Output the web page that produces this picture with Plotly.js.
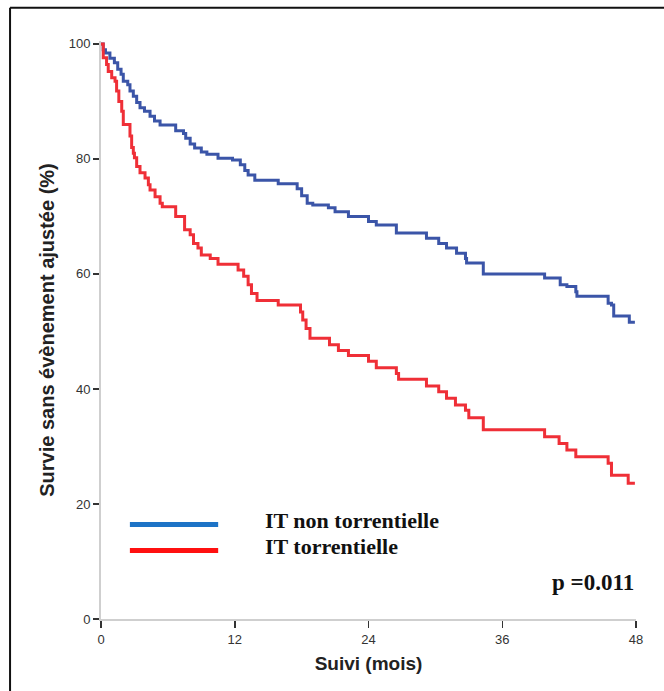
<!DOCTYPE html>
<html>
<head>
<meta charset="utf-8">
<script src="https://cdn.plot.ly/plotly-3.0.1.min.js"></script>
<style>
html,body{margin:0;padding:0;background:#fff;}
#chart{width:664px;height:691px;}
</style>
</head>
<body>
<div id="chart"></div>
<script>
// Kaplan-Meier step data (months, % event-free survival)
const blueName = "IT non torrentielle";
const blueTime = [0, 0.2, 0.4, 0.8, 1.2, 1.5, 1.8, 2.0, 2.4, 2.6, 2.9, 3.2, 3.5, 3.9, 4.4, 4.8, 5.3, 6.7, 7.4, 7.6, 8.0, 8.4, 9.0, 9.5, 10.5, 11.8, 12.5, 12.9, 13.2, 13.8, 15.9, 17.6, 18.0, 18.5, 19.0, 20.4, 21.0, 22.2, 24.0, 24.7, 26.5, 29.2, 30.3, 31.0, 31.9, 32.7, 32.8, 34.3, 39.8, 41.2, 41.8, 42.6, 42.7, 45.5, 45.8, 46.0, 47.4, 47.9];
const blueSurv = [100, 99.0, 98.4, 97.5, 96.7, 95.6, 94.7, 93.5, 92.9, 91.8, 90.9, 89.8, 88.9, 88.3, 87.4, 86.6, 85.9, 84.9, 84.4, 83.6, 82.6, 81.9, 81.2, 80.8, 80.1, 79.8, 79.0, 78.0, 77.2, 76.3, 75.7, 74.8, 73.6, 72.3, 72.0, 71.5, 70.8, 70.0, 69.1, 68.5, 67.1, 66.2, 65.3, 64.5, 63.6, 62.7, 61.9, 60.0, 59.3, 58.1, 57.8, 56.9, 56.1, 54.9, 54.6, 52.7, 51.6, 51.6];

const redName = "IT torrentielle";
const redTime = [0, 0.2, 0.5, 0.65, 0.96, 1.26, 1.4, 1.6, 1.86, 2.0, 2.6, 2.75, 2.9, 3.0, 3.2, 3.5, 3.95, 4.25, 4.4, 4.85, 5.3, 5.5, 6.7, 7.5, 8.0, 8.3, 8.7, 9.0, 9.8, 10.5, 12.3, 12.8, 13.2, 13.5, 14.0, 15.9, 17.9, 18.1, 18.4, 18.75, 20.5, 21.3, 22.2, 24.0, 24.7, 26.5, 26.7, 29.2, 30.3, 31.0, 31.8, 32.7, 33.0, 34.3, 39.8, 41.1, 41.8, 42.6, 45.5, 45.8, 47.3, 47.9];
const redSurv = [100, 97.6, 96.4, 95.2, 94.1, 93.5, 91.8, 90.0, 88.3, 86.0, 84.0, 82.0, 81.0, 80.2, 78.7, 77.6, 76.7, 75.5, 74.6, 73.4, 72.3, 71.7, 70.0, 67.7, 66.8, 65.3, 64.5, 63.3, 62.7, 61.7, 60.7, 59.6, 58.1, 56.6, 55.4, 54.6, 53.4, 52.0, 50.5, 48.8, 47.7, 46.7, 45.8, 44.8, 43.7, 42.7, 41.7, 40.5, 39.5, 38.4, 37.2, 36.3, 35.0, 32.9, 31.7, 30.5, 29.4, 28.2, 27.1, 25.0, 23.6, 23.6];

const xTicks = [0, 12, 24, 36, 48];
const yTicks = [0, 20, 40, 60, 80, 100];
const pText = "p =0.011";

const traces = [
  {x: blueTime, y: blueSurv, name: blueName, type: "scatter", mode: "lines",
   line: {shape: "hv", color: "#3b55a8", width: 3}},
  {x: redTime, y: redSurv, name: redName, type: "scatter", mode: "lines",
   line: {shape: "hv", color: "#ef2f37", width: 3}}
];

const serif = "Liberation Serif, Times New Roman, serif";
const sans = "Liberation Sans, Arial, sans-serif";

const layout = {
  width: 664, height: 691,
  margin: {l: 101, r: 28, t: 41, b: 72},
  paper_bgcolor: "#fff", plot_bgcolor: "#fff",
  showlegend: false,
  xaxis: {
    range: [0, 48], tickvals: xTicks, ticktext: xTicks.map(String),
    showgrid: false, zeroline: false,
    showline: true, linecolor: "#cfcfcf", linewidth: 2,
    ticks: "outside", ticklen: 7, tickwidth: 1.5, tickcolor: "#333",
    tickfont: {family: sans, size: 13, color: "#333"},
    title: {text: "Suivi (mois)", font: {family: sans, size: 19, color: "#222", weight: "bold"}, standoff: 11}
  },
  yaxis: {
    range: [0, 100.5], tickvals: yTicks, ticktext: yTicks.map(String),
    showgrid: false, zeroline: false,
    showline: true, linecolor: "#cfcfcf", linewidth: 2,
    ticks: "outside", ticklen: 6, tickwidth: 1.5, tickcolor: "#333",
    tickfont: {family: sans, size: 13, color: "#333"},
    title: {text: "Survie sans évènement ajustée (%)", font: {family: sans, size: 20, color: "#222", weight: "bold"}, standoff: 9}
  },
  shapes: [
    // outer frame (top and left)
    {type: "line", xref: "paper", yref: "paper", x0: -0.170, x1: 1.1, y0: 1.0574, y1: 1.0574, line: {color: "#111", width: 2}},
    {type: "line", xref: "paper", yref: "paper", x0: -0.170, x1: -0.170, y0: 1.0574, y1: -0.2, line: {color: "#111", width: 2}},
    // legend samples
    {type: "line", xref: "paper", yref: "paper", x0: 0.054, x1: 0.219, y0: 0.1635, y1: 0.1635, line: {color: "#1d73c6", width: 5}},
    {type: "line", xref: "paper", yref: "paper", x0: 0.054, x1: 0.219, y0: 0.1183, y1: 0.1183, line: {color: "#ff1010", width: 5}}
  ],
  annotations: [
    {xref: "paper", yref: "paper", x: 0.303, y: 0.170, xanchor: "left", yanchor: "middle", showarrow: false,
     text: blueName, font: {family: serif, size: 22, color: "#111", weight: "bold"}},
    {xref: "paper", yref: "paper", x: 0.303, y: 0.125, xanchor: "left", yanchor: "middle", showarrow: false,
     text: redName, font: {family: serif, size: 22, color: "#111", weight: "bold"}},
    {xref: "paper", yref: "paper", x: 1.0, y: 0.063, xanchor: "right", yanchor: "middle", showarrow: false,
     text: pText, font: {family: serif, size: 23, color: "#111", weight: "bold"}}
  ]
};

Plotly.newPlot("chart", traces, layout, {staticPlot: true, displayModeBar: false});
</script>
</body>
</html>
